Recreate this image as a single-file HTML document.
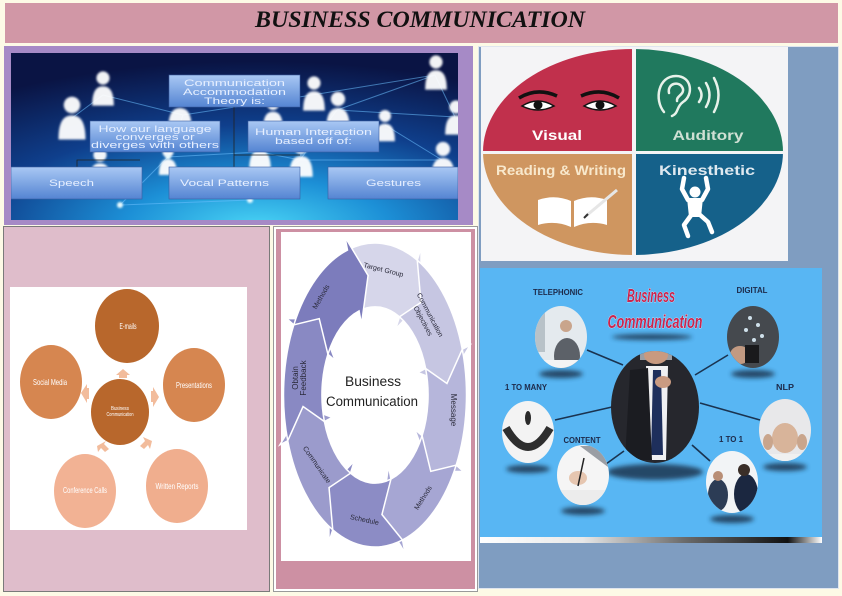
<!DOCTYPE html>
<html><head><meta charset="utf-8">
<style>
html,body{margin:0;padding:0;background:#fdfae6;}
svg{display:block;}
text{font-family:"Liberation Sans",sans-serif;}
</style></head><body>
<svg width="842" height="596" viewBox="0 0 842 596" xmlns="http://www.w3.org/2000/svg">
<defs>
 <radialGradient id="netbg" cx="0.55" cy="1.05" r="1.0" fx="0.55" fy="1.05">
   <stop offset="0" stop-color="#4ad6f6"/>
   <stop offset="0.3" stop-color="#1c8fd6"/>
   <stop offset="0.62" stop-color="#0f3f8c"/>
   <stop offset="1" stop-color="#0a1444"/>
 </radialGradient>
 <linearGradient id="box" x1="0" y1="0" x2="0" y2="1">
   <stop offset="0" stop-color="#a9c8f4"/><stop offset="1" stop-color="#5484d2"/>
 </linearGradient>
 <linearGradient id="bar" x1="0" y1="0" x2="1" y2="0">
   <stop offset="0" stop-color="#ffffff"/><stop offset="0.3" stop-color="#e8e8e8"/>
   <stop offset="0.6" stop-color="#6a6a6a"/><stop offset="0.9" stop-color="#111"/>
   <stop offset="1" stop-color="#ffffff"/>
 </linearGradient>
 <filter id="blur1"><feGaussianBlur stdDeviation="1"/></filter>
 <filter id="blur3"><feGaussianBlur stdDeviation="2.5"/></filter>
 <clipPath id="netclip"><rect x="11" y="53" width="447" height="167"/></clipPath>
 <clipPath id="lsclip"><ellipse cx="633" cy="152" rx="150" ry="103"/></clipPath>
 <clipPath id="man"><ellipse cx="655" cy="407" rx="44" ry="56"/></clipPath>
 <clipPath id="c1"><ellipse cx="561" cy="337" rx="26" ry="31"/></clipPath>
 <clipPath id="c2"><ellipse cx="528" cy="432" rx="26" ry="31"/></clipPath>
 <clipPath id="c3"><ellipse cx="583" cy="475" rx="26" ry="30"/></clipPath>
 <clipPath id="c4"><ellipse cx="753" cy="337" rx="26" ry="31"/></clipPath>
 <clipPath id="c5"><ellipse cx="785" cy="430" rx="26" ry="31"/></clipPath>
 <clipPath id="c6"><ellipse cx="732" cy="482" rx="26" ry="31"/></clipPath>
 <g id="person"><circle cx="0" cy="-10" r="5.5"/><path d="M-9,13 C-9,0 -5,-3 0,-3 C5,-3 9,0 9,13 Z"/></g>
 <path id="seg" d="M92.39,-38.27 A100,100 0 0 1 92.39,38.27 L100.70,41.71 L65.11,44.74 L45.27,18.75 L53.59,22.20 A58,58 0 0 0 53.59,-22.20 L77.68,-14.40 Z" stroke="#ffffff" stroke-width="1.5" vector-effect="non-scaling-stroke"/>
</defs>

<rect x="0" y="0" width="842" height="596" fill="#fdfae6"/>

<!-- Title bar -->
<rect x="5" y="3" width="833" height="40" fill="#d197a6"/>
<text x="420" y="27" text-anchor="middle" font-weight="bold" font-style="italic" font-size="23" fill="#111" style="font-family:'Liberation Serif',serif" textLength="330" lengthAdjust="spacingAndGlyphs">BUSINESS COMMUNICATION</text>

<!-- ===== Panel 1 ===== -->
<rect x="4" y="46" width="469" height="179" fill="#a68ac6"/>
<g clip-path="url(#netclip)">
 <rect x="11" y="53" width="447" height="167" fill="url(#netbg)"/>
 <g stroke="#6cc0ff" stroke-width="1" opacity="0.55" fill="none">
  <path d="M103,95 L183,115 L312,95 L435,75 L455,117"/>
  <path d="M337,110 L455,117 M300,160 L442,160 M300,160 L260,152 M120,205 L250,200 L300,160"/>
  <path d="M120,205 L168,157 L260,152 M72,118 L103,95 M337,110 L300,160 M435,75 L337,110 M385,125 L442,160 M183,115 L168,157"/>
 </g>
 <g fill="#ffffff" filter="url(#blur1)" opacity="0.95">
  <use href="#person" transform="translate(103,90) scale(1.2)"/>
  <use href="#person" transform="translate(72,120) scale(1.5)"/>
  <use href="#person" transform="translate(180,112) scale(1.3)"/>
  <use href="#person" transform="translate(273,115) scale(1.1)"/>
  <use href="#person" transform="translate(314,95) scale(1.2)"/>
  <use href="#person" transform="translate(338,112) scale(1.3)"/>
  <use href="#person" transform="translate(436,74) scale(1.2)"/>
  <use href="#person" transform="translate(456,119) scale(1.2)"/>
  <use href="#person" transform="translate(443,162) scale(1.3)"/>
  <use href="#person" transform="translate(260,154) scale(1.2)"/>
  <use href="#person" transform="translate(301,160) scale(1.3)"/>
  <use href="#person" transform="translate(100,167) scale(1.2)"/>
  <use href="#person" transform="translate(168,162) scale(1.0)"/>
  <use href="#person" transform="translate(385,127) scale(1.1)"/>
 </g>
 <g fill="#e8fbff" filter="url(#blur1)">
  <circle cx="120" cy="205" r="3"/><circle cx="250" cy="200" r="3"/><circle cx="168" cy="157" r="2.5"/>
 </g>
 <g stroke="#222" stroke-width="0.8" fill="none">
  <path d="M234,107 L234,167 M234,155 L300,155"/>
  <path d="M77,167 L77,160 L140,160"/>
 </g>
 <g fill="url(#box)" stroke="#3c5ea0" stroke-width="0.6">
  <rect x="169" y="75" width="131" height="32"/>
  <rect x="90" y="121" width="130" height="31"/>
  <rect x="248" y="121" width="131" height="31"/>
  <rect x="11" y="167" width="131" height="32"/>
  <rect x="169" y="167" width="131" height="32"/>
  <rect x="328" y="167" width="130" height="32"/>
 </g>
 <g fill="#e6efff" font-size="9" text-anchor="middle" style="font-family:'DejaVu Sans',sans-serif">
  <text x="234.5" y="86" textLength="101" lengthAdjust="spacingAndGlyphs">Communication</text>
  <text x="234.5" y="95" textLength="103" lengthAdjust="spacingAndGlyphs">Accommodation</text>
  <text x="234.5" y="104" textLength="61" lengthAdjust="spacingAndGlyphs">Theory is:</text>
  <text x="155" y="132" textLength="113" lengthAdjust="spacingAndGlyphs">How our language</text>
  <text x="155" y="140" textLength="79" lengthAdjust="spacingAndGlyphs">converges or</text>
  <text x="155" y="148" textLength="128" lengthAdjust="spacingAndGlyphs">diverges with others</text>
  <text x="313.5" y="135" textLength="117" lengthAdjust="spacingAndGlyphs">Human Interaction</text>
  <text x="313.5" y="144" textLength="77" lengthAdjust="spacingAndGlyphs">based off of:</text>
  <text x="71.5" y="186" textLength="45" lengthAdjust="spacingAndGlyphs">Speech</text>
  <text x="224.5" y="186" textLength="89" lengthAdjust="spacingAndGlyphs">Vocal Patterns</text>
  <text x="393.5" y="186" textLength="55" lengthAdjust="spacingAndGlyphs">Gestures</text>
 </g>
</g>

<!-- ===== Right column ===== -->
<rect x="478.5" y="46.5" width="360" height="542" fill="#7f9dc1" stroke="#dfe5ef" stroke-width="1"/>
<rect x="481" y="47" width="307" height="214" fill="#f4f4f6"/>
<g clip-path="url(#lsclip)">
 <rect x="480" y="45" width="152" height="106" fill="#c1304c"/>
 <rect x="636" y="45" width="150" height="106" fill="#20795e"/>
 <rect x="480" y="154" width="152" height="105" fill="#cf9660"/>
 <rect x="636" y="154" width="150" height="105" fill="#15618a"/>
</g>
<g>
 <path d="M519,98 Q537,87 557,96" stroke="#111" stroke-width="3.5" fill="none"/>
 <path d="M522,106 Q538,96 554,106 Q538,114 522,106Z" fill="#fff" stroke="#111" stroke-width="1.5"/>
 <circle cx="538" cy="105" r="4.5" fill="#111"/>
 <path d="M581,96 Q601,87 619,98" stroke="#111" stroke-width="3.5" fill="none"/>
 <path d="M584,106 Q600,96 616,106 Q600,114 584,106Z" fill="#fff" stroke="#111" stroke-width="1.5"/>
 <circle cx="600" cy="105" r="4.5" fill="#111"/>
</g>
<g stroke="#e8f2ea" stroke-width="2.5" fill="none" stroke-linecap="round">
 <path d="M664,112 C654,100 658,76 676,76 C692,76 694,95 683,102 C676,107 679,113 672,116"/>
 <path d="M669,93 C667,83 680,80 683,89 C684,95 676,96 677,101"/>
 <path d="M699,88 Q704,95 699,102"/>
 <path d="M706,83 Q713,95 706,107"/>
 <path d="M714,78 Q723,95 714,112"/>
</g>
<g>
 <path d="M538,200 Q555,194 571,201 L571,227 Q555,220 538,225 Z" fill="#fff"/>
 <path d="M574,201 Q590,194 607,200 L607,225 Q590,220 574,227 Z" fill="#fff"/>
 <line x1="586" y1="216" x2="617" y2="190" stroke="#e6e6e6" stroke-width="3"/>
 <line x1="584" y1="218" x2="588" y2="214" stroke="#333" stroke-width="2"/>
</g>
<g stroke="#fff" stroke-width="4.5" stroke-linecap="round" stroke-linejoin="round" fill="none">
 <path d="M688,200 L682,189 L684,178"/>
 <path d="M702,200 L708,189 L706,178"/>
 <path d="M692,214 L684,225 L688,236"/>
 <path d="M699,214 L708,222 L712,232"/>
</g>
<circle cx="695" cy="192" r="5.5" fill="#fff"/>
<path d="M687,198 L703,198 L701,217 L689,217 Z" fill="#fff"/>
<g font-weight="bold" text-anchor="middle" style="font-family:'DejaVu Sans',sans-serif">
 <text x="557" y="140" font-size="14" fill="#ffffff" textLength="50" lengthAdjust="spacingAndGlyphs">Visual</text>
 <text x="708" y="140" font-size="14" fill="#cfe0d4" textLength="71" lengthAdjust="spacingAndGlyphs">Auditory</text>
 <text x="561" y="175" font-size="13.5" fill="#f8e8cc" textLength="130" lengthAdjust="spacingAndGlyphs">Reading &amp; Writing</text>
 <text x="707" y="175" font-size="13.5" fill="#dfe9f0" textLength="96" lengthAdjust="spacingAndGlyphs">Kinesthetic</text>
</g>

<!-- Business communication photo panel -->
<rect x="480" y="268" width="342" height="269" fill="#58b6f3"/>
<rect x="480" y="537" width="342" height="6" fill="url(#bar)"/>
<g fill="#1d3450" filter="url(#blur3)" opacity="0.85">
 <ellipse cx="652" cy="337" rx="40" ry="3"/>
 <ellipse cx="655" cy="472" rx="48" ry="8"/>
 <ellipse cx="561" cy="374" rx="22" ry="4"/>
 <ellipse cx="528" cy="469" rx="22" ry="4"/>
 <ellipse cx="583" cy="511" rx="22" ry="4"/>
 <ellipse cx="753" cy="374" rx="22" ry="4"/>
 <ellipse cx="785" cy="467" rx="22" ry="4"/>
 <ellipse cx="732" cy="519" rx="22" ry="4"/>
</g>
<g stroke="#1a3350" stroke-width="1.6">
 <line x1="587" y1="350" x2="623" y2="365"/>
 <line x1="728" y1="355" x2="695" y2="375"/>
 <line x1="555" y1="420" x2="612" y2="407"/>
 <line x1="700" y1="403" x2="760" y2="420"/>
 <line x1="606" y1="464" x2="624" y2="451"/>
 <line x1="692" y1="445" x2="710" y2="461"/>
</g>
<g clip-path="url(#man)">
 <rect x="610" y="350" width="90" height="115" fill="#26272d"/>
 <rect x="640" y="350" width="32" height="10" fill="#9a9ea4"/>
 <ellipse cx="656" cy="355" rx="12" ry="9" fill="#c89a80"/>
 <polygon points="646,366 668,366 666,460 650,460" fill="#f0f0f2"/>
 <polygon points="653,370 661,370 663,455 651,455" fill="#1e2f5c"/>
 <ellipse cx="663" cy="382" rx="8" ry="6" fill="#c99b82"/>
 <path d="M630,370 L648,368 L652,460 L625,460 Z" fill="#1b1c21"/>
</g>
<g clip-path="url(#c1)">
 <rect x="530" y="300" width="62" height="70" fill="#e4eaee"/>
 <rect x="533" y="312" width="12" height="40" fill="#b8c2c8"/>
 <ellipse cx="567" cy="356" rx="13" ry="18" fill="#5c6168"/>
 <circle cx="566" cy="326" r="6" fill="#c9a58c"/>
 <rect x="530" y="360" width="62" height="10" fill="#f4f4f4"/>
</g>
<g clip-path="url(#c2)">
 <rect x="500" y="400" width="56" height="64" fill="#f3f3f3"/>
 <path d="M506,428 Q528,466 550,428" stroke="#2e2e2e" stroke-width="8" fill="none"/>
 <ellipse cx="528" cy="418" rx="3" ry="7" fill="#2a2a2a"/>
</g>
<g clip-path="url(#c3)">
 <rect x="556" y="444" width="56" height="62" fill="#f5f5f5"/>
 <path d="M580,446 L612,446 L612,470 Z" fill="#9a9ea4"/>
 <ellipse cx="578" cy="478" rx="9" ry="7" fill="#e6c6b0"/>
 <line x1="584" y1="458" x2="578" y2="486" stroke="#222" stroke-width="1.5"/>
 <rect x="556" y="490" width="56" height="16" fill="#ececec"/>
</g>
<g clip-path="url(#c4)">
 <rect x="726" y="305" width="56" height="64" fill="#45494e"/>
 <ellipse cx="740" cy="355" rx="10" ry="9" fill="#c29a82"/>
 <rect x="745" y="345" width="14" height="18" fill="#1a1a1c"/>
 <g fill="#cfe0ea"><circle cx="750" cy="318" r="2"/><circle cx="758" cy="325" r="2"/><circle cx="746" cy="330" r="2"/><circle cx="762" cy="336" r="2"/><circle cx="754" cy="340" r="2"/></g>
</g>
<g clip-path="url(#c5)">
 <rect x="758" y="398" width="56" height="64" fill="#e8e8ea"/>
 <ellipse cx="785" cy="438" rx="13" ry="15" fill="#d8b49a"/>
 <ellipse cx="768" cy="442" rx="5" ry="8" fill="#c9a58c"/>
 <ellipse cx="802" cy="442" rx="5" ry="8" fill="#c9a58c"/>
 <rect x="758" y="454" width="56" height="10" fill="#f0f0f0"/>
</g>
<g clip-path="url(#c6)">
 <rect x="705" y="450" width="56" height="64" fill="#f2f4f6"/>
 <ellipse cx="718" cy="495" rx="10" ry="16" fill="#2c3c55"/>
 <circle cx="718" cy="476" r="5" fill="#b88e76"/>
 <ellipse cx="746" cy="494" rx="12" ry="20" fill="#1b2740"/>
 <circle cx="744" cy="470" r="6" fill="#3a2e28"/>
</g>
<g font-weight="bold" font-style="italic" fill="#c8244e" stroke="#ffffff" stroke-width="0.6" paint-order="stroke" text-anchor="middle" style="font-family:'Liberation Serif',serif">
 <text x="651" y="302" font-size="18" textLength="48" lengthAdjust="spacingAndGlyphs">Business</text>
 <text x="655" y="328" font-size="18" textLength="95" lengthAdjust="spacingAndGlyphs">Communication</text>
</g>
<g font-weight="bold" fill="#1d2a4a" text-anchor="middle" font-size="8">
 <text x="558" y="295" textLength="50" lengthAdjust="spacingAndGlyphs">TELEPHONIC</text>
 <text x="752" y="293" textLength="31" lengthAdjust="spacingAndGlyphs">DIGITAL</text>
 <text x="526" y="390" textLength="42" lengthAdjust="spacingAndGlyphs">1 TO MANY</text>
 <text x="785" y="390" textLength="18" lengthAdjust="spacingAndGlyphs">NLP</text>
 <text x="582" y="443" textLength="37" lengthAdjust="spacingAndGlyphs">CONTENT</text>
 <text x="731" y="442" textLength="24" lengthAdjust="spacingAndGlyphs">1 TO 1</text>
</g>

<!-- ===== Panel 3 (bottom-left) ===== -->
<rect x="3.5" y="226.5" width="266" height="365" fill="#dfbdcb" stroke="#7a7a7a" stroke-width="1"/>
<rect x="10" y="287" width="237" height="243" fill="#ffffff"/>
<g>
 <ellipse cx="127" cy="326" rx="32" ry="37" fill="#b8672c"/>
 <ellipse cx="51" cy="382" rx="31" ry="37" fill="#d68650"/>
 <ellipse cx="194" cy="385" rx="31" ry="37" fill="#d68650"/>
 <ellipse cx="120" cy="412" rx="29" ry="33" fill="#b8672c"/>
 <ellipse cx="85" cy="491" rx="31" ry="37" fill="#f2b294"/>
 <ellipse cx="177" cy="486" rx="31" ry="37" fill="#f0ae8e"/>
</g>
<g fill="#f2bc9c">
 <polygon points="116,375 123,369 130,375 127,375 127,378 119,378 119,375"/>
 <polygon points="81,393 87,384 87,388 89,388 89,399 87,399 87,403"/>
 <polygon points="159,397 153,387 153,391 151,391 151,402 153,402 153,407"/>
 <polygon points="97,446 106,441 104,444 109,449 105,452 101,448 98,452"/>
 <polygon points="152,441 143,437 145,441 140,446 144,449 148,445 150,449"/>
</g>
<g fill="#ffffff" text-anchor="middle" font-size="8.5">
 <text x="128" y="329" textLength="17" lengthAdjust="spacingAndGlyphs">E-mails</text>
 <text x="50" y="385" textLength="34" lengthAdjust="spacingAndGlyphs">Social Media</text>
 <text x="194" y="388" textLength="36" lengthAdjust="spacingAndGlyphs">Presentations</text>
 <text x="85" y="493" textLength="44" lengthAdjust="spacingAndGlyphs">Conference Calls</text>
 <text x="177" y="489" textLength="43" lengthAdjust="spacingAndGlyphs">Written Reports</text>
 <text x="120" y="410" font-size="5" textLength="18" lengthAdjust="spacingAndGlyphs">Business</text>
 <text x="120" y="416" font-size="5" textLength="27" lengthAdjust="spacingAndGlyphs">Communication</text>
</g>

<!-- ===== Panel 4 (middle) ===== -->
<rect x="273.5" y="226.5" width="204" height="365" fill="#ffffff" stroke="#9a9a9a" stroke-width="1"/>
<rect x="276" y="229" width="199" height="360" fill="#cd90a3"/>
<rect x="281" y="232" width="190" height="329" fill="#ffffff"/>
<g transform="translate(375,395) scale(0.915,1.52)">
 <use href="#seg" transform="rotate(-85)" fill="#d6d6ea"/>
 <use href="#seg" transform="rotate(-40)" fill="#c6c6e2"/>
 <use href="#seg" transform="rotate(5)" fill="#b6b6db"/>
 <use href="#seg" transform="rotate(50)" fill="#a6a6d3"/>
 <use href="#seg" transform="rotate(95)" fill="#8c8cc5"/>
 <use href="#seg" transform="rotate(140)" fill="#9b9bcc"/>
 <use href="#seg" transform="rotate(185)" fill="#8989c3"/>
 <use href="#seg" transform="rotate(230)" fill="#7c7cbc"/>
</g>
<g fill="#2a2a3a" font-size="7" text-anchor="middle">
 <text transform="translate(383,272) rotate(14)">Target Group</text>
 <text transform="translate(428,316) rotate(62)">Communication</text>
 <text transform="translate(421,322) rotate(62)">Objectives</text>
 <text transform="translate(451,410) rotate(90)" font-size="8">Message</text>
 <text transform="translate(425,499) rotate(-58)">Methods</text>
 <text transform="translate(364,522) rotate(12)">Schedule</text>
 <text transform="translate(315,466) rotate(55)">Communicate</text>
 <text transform="translate(298,378) rotate(-90)" font-size="8">Obtain</text>
 <text transform="translate(306,378) rotate(-90)" font-size="8">Feedback</text>
 <text transform="translate(323,298) rotate(-60)">Methods</text>
</g>
<g fill="#222" font-size="13.5" text-anchor="middle">
 <text x="373" y="386" textLength="56" lengthAdjust="spacingAndGlyphs">Business</text>
 <text x="372" y="406" textLength="92" lengthAdjust="spacingAndGlyphs">Communication</text>
</g>
</svg>
</body></html>
